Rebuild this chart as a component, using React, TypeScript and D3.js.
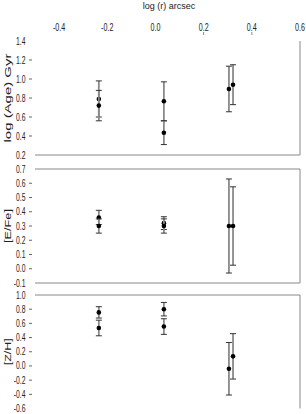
import React from 'react'
import * as d3 from 'd3'

// radius positions (log r, arcsec)
const radii = [-0.235, -0.235, 0.035, 0.035, 0.305, 0.322]

// log(Age) Gyr
const ageVals = [0.79, 0.72, 0.765, 0.435, 0.895, 0.94]
const ageErrs = [0.19, 0.16, 0.205, 0.125, 0.24, 0.21]

// [E/Fe]
const efeVals = [0.36, 0.30, 0.32, 0.30, 0.30, 0.30]
const efeErrs = [0.05, 0.05, 0.045, 0.05, 0.33, 0.275]

// [Z/H]
const zhVals = [0.755, 0.535, 0.80, 0.555, -0.04, 0.135]
const zhErrs = [0.08, 0.11, 0.095, 0.11, 0.37, 0.32]

const xTicks = [-0.4, -0.2, 0.0, 0.2, 0.4, 0.6]
const xTickMarks = [0.2, 0.4]
const ageTicks = [1.4, 1.2, 1.0, 0.8, 0.6, 0.4, 0.2]
const efeTicks = [0.7, 0.6, 0.5, 0.4, 0.3, 0.2, 0.1, 0.0, -0.1]
const zhTicks = [1.0, 0.8, 0.6, 0.4, 0.2, 0.0, -0.2, -0.4, -0.6]

const font = '"Liberation Sans", Arial, sans-serif'
const fmt = (t) => d3.format('.1f')(t).replace('−', '-')
const SQ = 0.68 // horizontal squeeze of tick labels

function Panel(props) {
  const { x, top, bottom, domain, ticks, vals, errs, title, titleLen, borders } = props
  const y = d3.scaleLinear().domain(domain).range([bottom, top])
  const [x0, x1] = x.range()
  return (
    <g>
      {borders.top && <line x1={x0} x2={x1} y1={top} y2={top} stroke="#888" />}
      {borders.bottom && <line x1={x0} x2={x1} y1={bottom} y2={bottom} stroke="#888" />}
      <line x1={x1} x2={x1} y1={top} y2={bottom} stroke="#888" />
      {ticks.map((t, i) => (
        <g key={i}>
          <text
            transform={`translate(25.5,${y(t)}) scale(${SQ},1)`}
            dy="0.35em"
            textAnchor="end"
            fontSize={10}
            fontFamily={font}
            fill="#222"
          >
            {fmt(t)}
          </text>
          {i > 0 && i < ticks.length - 1 && (
            <line x1={29} x2={32} y1={y(t)} y2={y(t)} stroke="#666" />
          )}
        </g>
      ))}
      <text
        transform={`translate(7.5,${(top + bottom) / 2}) rotate(-90)`}
        textAnchor="middle"
        dy="0.35em"
        fontSize={9}
        fontFamily={font}
        fill="#222"
        textLength={titleLen}
        lengthAdjust="spacingAndGlyphs"
      >
        {title}
      </text>
      {vals.map((v, i) => {
        const cx = x(radii[i])
        const yHi = y(v + errs[i])
        const yLo = y(v - errs[i])
        return (
          <g key={i}>
            <line x1={cx} x2={cx} y1={yHi} y2={yLo} stroke="#8a8a8a" strokeWidth={1.8} />
            <line x1={cx - 3} x2={cx + 3} y1={yHi} y2={yHi} stroke="#333" />
            <line x1={cx - 3} x2={cx + 3} y1={yLo} y2={yLo} stroke="#333" />
            <circle cx={cx} cy={y(v)} r={2.3} fill="#000" />
          </g>
        )
      })}
    </g>
  )
}

export default function App() {
  const x = d3.scaleLinear().domain([-0.5, 0.6]).range([35, 300])
  return (
    <div style={{ position: 'absolute', left: 0, top: 0 }}>
      <svg width={306} height={414} style={{ display: 'block', background: '#fff' }}>
        <text x={169} y={9} textAnchor="middle" fontSize={9} fontFamily={font} fill="#222">
          log (r)  arcsec
        </text>
        {xTicks.map((t, i) => (
          <text
            key={i}
            transform={`translate(${x(t)},31) scale(${SQ},1)`}
            textAnchor="middle"
            fontSize={10.5}
            fontFamily={font}
            fill="#222"
          >
            {fmt(t)}
          </text>
        ))}
        {xTickMarks.map((t, i) => (
          <line key={i} x1={x(t)} x2={x(t)} y1={32} y2={35} stroke="#888" />
        ))}
        <Panel
          x={x}
          top={41}
          bottom={155}
          domain={[0.2, 1.4]}
          ticks={ageTicks}
          vals={ageVals}
          errs={ageErrs}
          title="log (Age)  Gyr"
          titleLen={89}
          borders={{ top: false, bottom: true }}
        />
        <Panel
          x={x}
          top={169}
          bottom={283}
          domain={[-0.1, 0.7]}
          ticks={efeTicks}
          vals={efeVals}
          errs={efeErrs}
          title="[E/Fe]"
          titleLen={34}
          borders={{ top: true, bottom: true }}
        />
        <Panel
          x={x}
          top={295}
          bottom={408.5}
          domain={[-0.6, 1.0]}
          ticks={zhTicks}
          vals={zhVals}
          errs={zhErrs}
          title="[Z/H]"
          titleLen={27}
          borders={{ top: true, bottom: false }}
        />
      </svg>
    </div>
  )
}
